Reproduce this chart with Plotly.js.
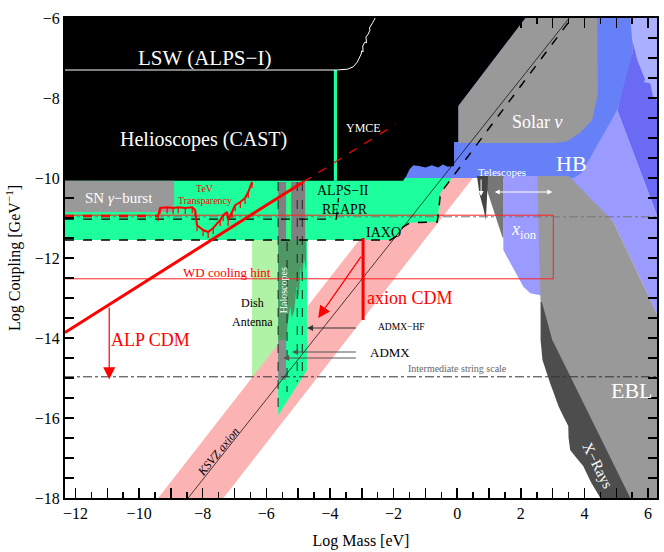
<!DOCTYPE html>
<html><head><meta charset="utf-8">
<script src="https://cdn.plot.ly/plotly-3.0.1.min.js"></script>
<style>html,body{margin:0;padding:0;background:#fff;}</style>
</head><body><div id="chart" style="width:664px;height:552px;"></div>
<script>
const SERIF = "Liberation Serif, Times New Roman, serif";
// ---------------- data ----------------
const xRange = [-12.33, 6.28];
const yRange = [-18, -6];
const xTickVals = [-12,-11,-10,-9,-8,-7,-6,-5,-4,-3,-2,-1,0,1,2,3,4,5,6];
const xTickText = ["−12","","−10","","−8","","−6","","−4","","−2","","0","","2","","4","","6"];
const yTickVals = [-18,-16,-14,-12,-10,-8,-6];
const yTickText = ["−18","−16","−14","−12","−10","−8","−6"];

// filled exclusion / sensitivity regions (log mass, log coupling)
const lightGreenX = [-6.45, -4.72, -4.72, -6.45];
const lightGreenY = [-11.45, -11.45, -15.0, -15.0];
const pinkX = [-9.4, -7.35, 0.49, -1.56];
const pinkY = [-18, -18, -10.0, -10.0];
const iaxoX = [-12.33, -0.07, -0.53, -0.58, -0.63, -1.48, -1.7, -1.9, -2.1, -12.33];
const iaxoY = [-9.9, -9.9, -10.38, -10.8, -11.1, -11.12, -11.22, -11.45, -11.55, -11.55];
const haloX = [-5.63, -4.72, -4.72, -5.63];
const haloY = [-10.1, -10.1, -14.8, -15.93];
const haloGray1X = [-5.63, -5.38, -5.38, -5.63];
const haloGray1Y = [-10.1, -10.1, -11.55, -11.55];
const haloGray2X = [-5.22, -4.78, -4.78, -5.22];
const haloGray2Y = [-10.1, -10.1, -11.55, -11.55];
const haloDarkX = [-5.63, -4.75, -4.75, -4.82, -4.88, -4.92, -4.98, -5.05, -5.12, -5.2, -5.25, -5.32, -5.38, -5.63];
const haloDarkY = [-11.55, -11.55, -12.3, -12.0, -12.6, -12.2, -13.0, -12.7, -13.3, -13.5, -13.2, -13.6, -14.05, -14.05];
const haloGray3X = [-5.63, -5.38, -5.38, -5.63];
const haloGray3Y = [-14.05, -14.05, -15.05, -15.05];
const lav2X = [3.4, 3.9, 5.03, 6.28, 6.28, 4.91];
const lav2Y = [-10.05, -9.5, -8.3, -10.93, -13.4, -11.1];
const hbX = [-1.75, 3.65, 3.9, 4.08, 5.03, 5.5, 5.5, -0.3, -0.3, -1.75];
const hbY = [-10.0, -10.0, -9.88, -9.63, -8.3, -7.05, -6, -6, -9.5, -9.5];
const b2X = [5.03, 5.5, 5.5, 6.28, 6.28];
const b2Y = [-8.3, -6.9, -6, -6, -10.93];
const lav1X = [5.44, 6.28, 6.28, 6.16, 6.07, 5.85, 5.91, 5.85, 5.66, 5.5];
const lav1Y = [-6, -6, -8.05, -7.98, -7.63, -7.6, -7.55, -7.43, -7.05, -6.55];
const xionX = [1.45, 2.7, 2.7, 2.61, 2.3, 2.08, 1.57, 1.45];
const xionY = [-9.95, -9.95, -12.93, -12.93, -12.88, -12.72, -11.98, -11.8];
const eblX = [2.52, 3.5, 4.91, 6.28, 6.28, 4.5, 2.62, 2.58];
const eblY = [-9.95, -9.95, -11.1, -13.4, -18, -18, -13.1, -12.0];
const xrayX = [2.62, 2.66, 2.99, 5.44, 4.5, 4.2, 3.96, 3.75, 3.55, 3.5, 3.49, 3.3, 3.18, 3.0, 2.92, 2.68, 2.62];
const xrayY = [-13.1, -13.1, -14.05, -18, -18, -17.6, -17.2, -17.0, -16.8, -16.5, -16.2, -15.9, -15.7, -15.3, -15.13, -14.55, -14.05];
const telX = [0.79, 1.45, 1.45, 1.42];
const telY = [-9.95, -9.95, -11.5, -11.48];
const telDarkX = [0.62, 0.97, 0.9, 0.82, 0.7];
const telDarkY = [-9.95, -9.95, -11.05, -10.75, -10.4];
const solarX = [0.03, 0.03, 2.14, 4.4, 4.42, 4.24, 3.87, 3.46, 3.1];
const solarY = [-9.125, -8.2, -6, -6, -7.9, -8.55, -8.86, -9.08, -9.125];
// CAST / LSW black region: upper block and noisy lower edge
const blackTopX = [-12.33, 2.14, 0.03, 0.03, -0.1, -0.1, -12.33];
const blackTopY = [-6, -6, -8.2, -9.1, -9.1, -9.65, -9.65];
const blackLowX = [-12.33, -0.1, -0.1, -0.3, -0.45, -0.6, -0.8, -1.0, -1.2, -1.38, -1.5, -1.6, -1.7, -12.33];
const blackLowY = [-9.6, -9.6, -9.7, -9.72, -9.66, -9.74, -9.68, -9.74, -9.7, -9.68, -9.78, -9.95, -10.07, -10.07];
const snX = [-12.33, -8.9, -8.9, -12.33];
const snY = [-10.07, -10.07, -10.85, -10.85];
const ymceX = [-3.88, -3.78, -3.78, -3.88];
const ymceY = [-7.3, -7.3, -10.07, -10.07];

// lines
const lswX = [-12.33, -3.8, -3.45, -3.27, -3.14, -3.08, -3.02, -3.0, -2.96, -2.97, -2.9, -2.85, -2.87, -2.8, -2.74, -2.76, -2.66, -2.58];
const lswY = [-7.3, -7.3, -7.28, -7.22, -7.1, -7.0, -6.9, -6.82, -6.85, -6.7, -6.6, -6.62, -6.48, -6.4, -6.3, -6.25, -6.12, -6.0];
const iaxoLineX = [-12.33, -2.1, -1.9, -1.7, -1.48, -0.63, -0.58, -0.53, 3.6];
const iaxoLineY = [-11.55, -11.55, -11.45, -11.22, -11.12, -11.1, -10.8, -10.38, -6.0];
const alpsX = [-12.33, -3.8, -3.73];
const alpsY = [-11.03, -11.03, -10.5];
const ksvzX = [-8.46, 3.49];
const ksvzY = [-18, -6.03];
const alpCdmX = [-12.33, -4.84];
const alpCdmY = [-13.86, -10.1];
const alpCdmDashX = [-4.84, -1.95];
const alpCdmDashY = [-10.1, -8.66];
const axionCdmX = [-2.96, -2.96];
const axionCdmY = [-11.5, -13.55];
const wdX = [-12.33, 3.02, 3.02, -12.33];
const wdY = [-10.93, -10.93, -12.52, -12.52];
const tevDashX = [-12.33, -9.4];
const tevDashY = [-10.95, -10.95];
const tevX = [-9.40,-9.34,-9.12,-8.93,-8.77,-8.55,-8.33,-8.24,-8.18,-7.99,-7.83,-7.67,-7.45,-7.36,-7.23,-7.20,-7.08,-6.98,-6.82,-6.67,-6.57,-6.45];
const tevY = [-10.93,-10.75,-10.73,-10.75,-10.73,-10.75,-10.73,-10.80,-11.18,-11.30,-11.35,-11.25,-11.05,-10.93,-10.85,-11.05,-10.85,-10.68,-10.60,-10.50,-10.35,-10.10];
const dashDot1Y = -10.97;
const stringScaleY = -14.97;
const haloDashX = [-5.63, -5.35, -5.03, -4.87];
const haloDashTop = [-10.1, -11.6, -10.1, -10.1];
const haloDashBot = [-15.93, -15.35, -15.1, -14.85];

// ---------------- build ----------------
const traces = [];
function poly(xs, ys, fill) {
  traces.push({type:'scatter', mode:'lines', x:xs, y:ys, fill:'toself', fillcolor:fill,
    line:{width:0, color:fill, simplify:false}, hoverinfo:'skip', showlegend:false});
}
function line(xs, ys, color, width, dash) {
  traces.push({type:'scatter', mode:'lines', x:xs, y:ys,
    line:{width:width, color:color, dash:dash||'solid', simplify:false}, hoverinfo:'skip', showlegend:false});
}
const GREEN = '#1cff9c';
poly(lightGreenX, lightGreenY, '#b0f3a6');
poly(pinkX, pinkY, '#fbb3b3');
poly(iaxoX, iaxoY, GREEN);
poly(haloX, haloY, GREEN);
poly(haloGray1X, haloGray1Y, '#808080');
poly(haloGray2X, haloGray2Y, '#808080');
poly(haloDarkX, haloDarkY, '#4f9764');
poly(haloGray3X, haloGray3Y, '#8a8a8a');
poly(lav2X, lav2Y, '#9a9aff');
poly(hbX, hbY, '#6680f8');
poly(b2X, b2Y, '#6a6af4');
poly(lav1X, lav1Y, '#aab0ff');
poly(xionX, xionY, '#9a9aff');
poly(eblX, eblY, '#999999');
poly(xrayX, xrayY, '#4d4d4d');
poly(telX, telY, '#777777');
poly(telDarkX, telDarkY, '#444444');
poly(solarX, solarY, '#999999');
poly(blackTopX, blackTopY, '#000000');
poly(blackLowX, blackLowY, '#000000');
poly(snX, snY, '#999999');
poly(ymceX, ymceY, GREEN);

line([-5.3, -5.3], [-10.1, -11.55], '#3cff70', 1.5);
for (let i = 0; i < haloDashX.length; i++) {
  line([haloDashX[i], haloDashX[i]], [haloDashTop[i], haloDashBot[i]], '#222', 1, 'dash');
}
line(lswX, lswY, '#ffffff', 1);
line(wdX, wdY, '#ff2020', 1);
line([xRange[0], xRange[1]], [dashDot1Y, dashDot1Y], '#777777', 1, 'dashdot');
line([xRange[0], xRange[1]], [stringScaleY, stringScaleY], '#333333', 1, 'dashdot');
line(iaxoLineX, iaxoLineY, '#000000', 1.5, 'dash');
line(alpsX, alpsY, '#000000', 1.3, 'dash');
line(ksvzX, ksvzY, '#000000', 0.7);
line(alpCdmX, alpCdmY, '#ff0000', 3);
line(alpCdmDashX, alpCdmDashY, '#ff0000', 1.2, 'dash');
line(axionCdmX, axionCdmY, '#ff0000', 3);
line(tevDashX, tevDashY, '#ff0000', 2.5, 'dash');
traces.push({type:'scatter', mode:'lines', x:tevX, y:tevY, line:{color:'#ff0000', width:2, simplify:false},
  error_y:{type:'constant', symmetric:false, value:0, valueminus:0.15, width:0, thickness:1.2, color:'#ff0000'},
  hoverinfo:'skip', showlegend:false});

const anns = [];
function txt(x, y, text, size, color, extra) {
  anns.push(Object.assign({x:x, y:y, xref:'x', yref:'y', text:text, showarrow:false,
    font:{family:SERIF, size:size, color:color}}, extra||{}));
}
function arrow(x, y, ax, ay, color, width, head, size, extra) {
  anns.push(Object.assign({x:x, y:y, ax:ax, ay:ay, xref:'x', yref:'y', axref:'x', ayref:'y',
    text:'', showarrow:true, arrowcolor:color, arrowwidth:width, arrowhead:head, arrowsize:size, standoff:0}, extra||{}));
}
txt(-7.96, -7.0, 'LSW (ALPS−I)', 21, '#ffffff');
txt(-7.99, -9.03, 'Helioscopes (CAST)', 20, '#ffffff');
txt(-2.96, -8.75, 'YMCE', 12, '#ffffff');
txt(-10.63, -10.5, 'SN <i>γ</i>−burst', 15, '#ffffff');
txt(-7.92, -10.25, 'TeV', 10, '#ff0000');
txt(-7.92, -10.55, 'Transparency', 10, '#ff0000');
txt(-3.58, -10.3, 'ALPS−II', 14, '#000000');
txt(-3.52, -10.78, 'REAPR', 14, '#000000');
txt(-2.33, -11.35, 'IAXO', 14, '#000000');
txt(-7.23, -12.35, 'WD cooling hint', 13, '#ff0000');
txt(-6.45, -13.13, 'Dish', 12, '#000000');
txt(-6.45, -13.6, 'Antenna', 12, '#000000');
txt(-5.47, -12.8, 'Haloscopes', 10, '#ffffff', {textangle:-90});
txt(-1.48, -13.0, 'axion CDM', 18, '#ff0000');
txt(-9.65, -14.05, 'ALP CDM', 18, '#ff0000');
txt(-1.76, -13.73, 'ADMX−HF', 9.5, '#000000');
txt(-2.1, -14.35, 'ADMX', 13, '#000000');
txt(0.0, -14.75, 'Intermediate string scale', 10, '#666666');
txt(-7.52, -16.85, '<i>KSVZ axion</i>', 12, '#000000', {textangle:-51});
txt(5.5, -15.3, 'EBL', 22, '#ffffff');
txt(4.4, -17.18, 'X−Rays', 15, '#ffffff', {textangle:63});
txt(2.52, -8.6, 'Solar <i>ν</i>', 18, '#ffffff');
txt(3.6, -9.63, 'HB', 22, '#ffffff');
txt(1.42, -9.85, 'Telescopes', 11, '#ffffff');
txt(2.1, -11.3, '<i>x</i><sub>ion</sub>', 18, '#ffffff');

arrow(-10.94, -15.03, -10.94, -13.2, '#ff0000', 1.2, 2, 2);
arrow(-4.37, -13.5, -2.99, -11.93, '#ff0000', 1.2, 2, 2);
arrow(-4.72, -13.75, -3.14, -13.75, '#333333', 1.2, 2, 1);
arrow(-5.19, -14.35, -3.14, -14.35, '#555555', 1.2, 2, 1);
arrow(-5.47, -14.5, -3.14, -14.5, '#555555', 1.2, 2, 1);
arrow(2.99, -10.35, 1.13, -10.35, '#ffffff', 1, 2, 1, {arrowside:'end+start'});
arrow(0.75, -10.45, 0.75, -10.0, '#ffffff', 1, 2, 1);

const axisCommon = {showgrid:false, zeroline:false, showline:true, linecolor:'#000', linewidth:2,
  mirror:'ticks', ticks:'inside', tickcolor:'#000', tickwidth:1.5,
  tickfont:{family:SERIF, size:16, color:'#000'}};
const layout = {
  width:664, height:552, margin:{l:65, r:7, t:18, b:54},
  paper_bgcolor:'#fff', plot_bgcolor:'#fff', showlegend:false,
  xaxis: Object.assign({}, axisCommon, {range:xRange, tickmode:'array', tickvals:xTickVals, ticktext:xTickText,
    ticklen:10, minor:{tickmode:'linear', tick0:0, dtick:0.5, ticklen:6, tickwidth:1.5, tickcolor:'#000', ticks:'inside'},
    title:{text:'Log Mass [eV]', font:{family:SERIF, size:16, color:'#000'}, standoff:14}}),
  yaxis: Object.assign({}, axisCommon, {range:yRange, tickmode:'array', tickvals:yTickVals, ticktext:yTickText,
    ticklen:9, minor:{tickmode:'linear', tick0:0, dtick:0.5, ticklen:9, tickwidth:1.5, tickcolor:'#000', ticks:'inside'},
    title:{text:'Log Coupling [GeV<sup>−1</sup>]', font:{family:SERIF, size:16, color:'#000'}, standoff:10}}),
  annotations: anns
};
Plotly.newPlot('chart', traces, layout, {staticPlot:true, displayModeBar:false});
</script></body></html>
